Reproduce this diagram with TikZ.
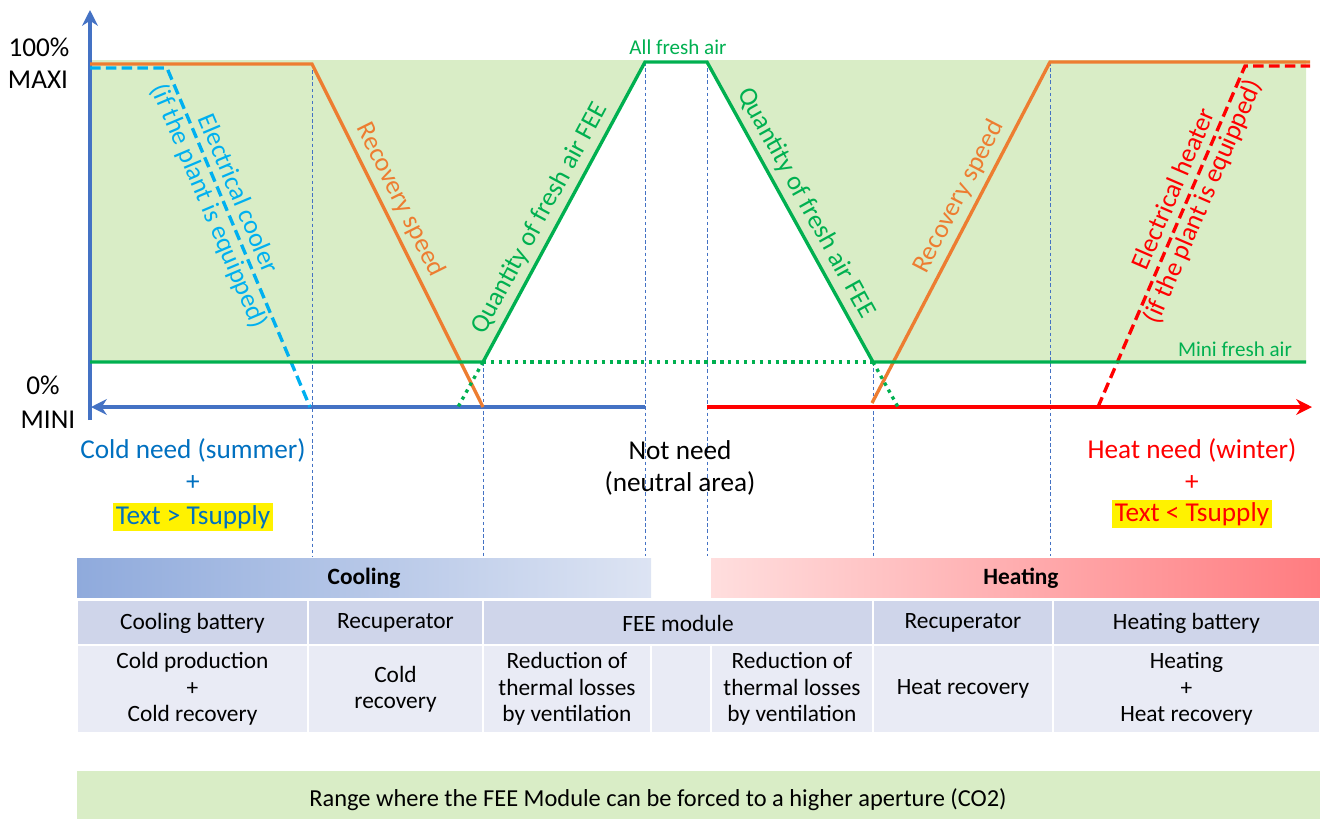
\documentclass[tikz,border=0pt]{standalone}
\usepackage{fontspec}
\setmainfont{Carlito}
\usetikzlibrary{arrows.meta}
\definecolor{axisblue}{HTML}{4472C4}
\definecolor{fegreen}{HTML}{00B050}
\definecolor{recorange}{HTML}{ED7D31}
\definecolor{coolerblue}{HTML}{00B0F0}
\definecolor{heatred}{HTML}{FF0000}
\definecolor{rangegreen}{HTML}{D9EDC6}
\definecolor{coldblue}{HTML}{0070C0}
\definecolor{headfill}{HTML}{CFD5EA}
\definecolor{bodyfill}{HTML}{E9EBF5}
\definecolor{coolL}{HTML}{8FAADC}
\definecolor{coolR}{HTML}{DDE4F3}
\definecolor{heatL}{HTML}{FFDEDE}
\definecolor{heatR}{HTML}{FF7C80}

\begin{document}
\begin{tikzpicture}[x=0.02cm,y=0.02cm,>={Stealth[length=9pt,width=9pt]},
	curve/.style={line width=1.9pt},
	axisline/.style={line width=2pt,draw=axisblue},
	guide/.style={draw=axisblue,line width=0.4pt,dash pattern=on 2pt off 1.5pt},
	dots/.style={fegreen,line width=1.9pt,dash pattern=on 1.9pt off 2.6pt},
	lbl/.style={font=\fontsize{15.5}{19}\selectfont,align=center},
	slopelbl/.style={font=\fontsize{15}{18}\selectfont,align=center,sloped,inner sep=3pt},
	small/.style={font=\fontsize{12}{14}\selectfont,text=fegreen},
	cell/.style={font=\fontsize{13.3}{15}\selectfont,align=center}]
	\useasboundingbox (0,0) rectangle (1320,-819);

	% key points of the curves
	\coordinate (recA) at (312,-64);
	\coordinate (recB) at (483,-407);
	\coordinate (recC) at (872,-403);
	\coordinate (recD) at (1050,-62);
	\coordinate (feeA) at (483,-362);
	\coordinate (feeB) at (645,-62);
	\coordinate (feeC) at (707,-62);
	\coordinate (feeD) at (873,-362);

	% range of the FEE module
	\fill[rangegreen] (90,-60) -- (feeB |- 0,-60) -- (feeA) -- (90,-362) -- cycle;
	\fill[rangegreen] (feeC |- 0,-60) -- (1306,-60) -- (1306,-362) -- (feeD) -- cycle;

	% guide lines
	\foreach \p in {recA,feeA,feeB,feeC,feeD,recD}
		\draw[guide] (\p) -- (\p |- 0,-556);

	% axes
	\draw[axisline,->] (90,-420) -- (90,-10);
	\draw[axisline,->] (feeB |- recB) -- (91,-407);
	\draw[axisline,draw=heatred,->] (feeC |- recB) -- (1312,-407);

	% curves
	\draw[curve,coolerblue,dash pattern=on 6pt off 3pt] (90,-68) -- (167,-68)
		-- node[slopelbl,pos=0.39] (cooler) {Electrical cooler\\(if the plant is equipped)} (310,-407);
	\draw[curve,heatred,dash pattern=on 6pt off 3pt] (1098,-407)
		-- node[slopelbl,pos=0.62] (heater) {Electrical heater\\(if the plant is equipped)} (1245,-66) -- (1310,-66);
	\draw[curve,recorange] (90,-64) -- (recA) -- node[slopelbl,above,pos=0.42] (recleft) {Recovery speed} (recB);
	\draw[curve,recorange] (recC) -- node[slopelbl,above,pos=0.58] (recright) {Recovery speed} (recD) -- (1310,-62);
	\draw[dots] (feeA) -- (feeD);
	\draw[dots] (feeA) -- (458,-407);
	\draw[dots] (feeD) -- (898,-407);
	\draw[curve,fegreen] (90,-362) -- (feeA)
		-- node[slopelbl,above,pos=0.45] (feeleft) {Quantity of fresh air FEE} (feeB) -- (feeC)
		-- node[slopelbl,above,pos=0.5] (feeright) {Quantity of fresh air FEE} (feeD) -- (1306,-362);

	% axis texts
	\node[lbl] (maxpct) at (39,-47) {100\%};
	\node[lbl] (maxi) at (38,-80) {MAXI};
	\node[lbl] (minpct) at (43,-385) {0\%};
	\node[lbl] (mini) at (48,-420) {MINI};
	\node[small] (allfresh) at (678,-47) {All fresh air};
	\node[small] (minifresh) at (1235,-349) {Mini fresh air};

	% needs
	\node[lbl,text=coldblue] (coldneed) at (193,-450) {Cold need (summer)};
	\node[lbl,text=coldblue] (coldplus) at (193,-483) {+};
	\node[lbl,text=coldblue,fill=yellow,inner sep=1.5pt] (coldcond) at (193,-517) {Text > Tsupply};
	\node[lbl] (noneed) at (680,-450) {Not need};
	\node[lbl] (neutral) at (680,-483) {(neutral area)};
	\node[lbl,text=heatred] (heatneed) at (1192,-450) {Heat need (winter)};
	\node[lbl,text=heatred] (heatplus) at (1192,-483) {+};
	\node[lbl,text=heatred,fill=yellow,inner sep=1.5pt] (heatcond) at (1192,-514) {Text < Tsupply};

	% cooling / heating bars
	\shade[left color=coolL,right color=coolR] (77,-558) rectangle (651,-597);
	\node[cell,font=\fontsize{13.3}{15}\selectfont\bfseries] (cooling) at (364,-578) {Cooling};
	\shade[left color=heatL,right color=heatR] (711,-558) rectangle (1320,-597);
	\node[cell,font=\fontsize{13.3}{15}\selectfont\bfseries] (heating) at (1021,-578) {Heating};

	% table
	\foreach \a/\b/\t in {77/308/Cooling battery,308/483/Recuperator,483/873/FEE module,
		873/1053/Recuperator,1053/1320/Heating battery} {
		\fill[headfill] (\a+1,-601) rectangle (\b-1,-644);
		\node[cell] (h\a) at ({(\a+\b)/2},-623) {\t};
	}
	\foreach \a/\b/\t in {77/308/{Cold production\\+\\Cold recovery},308/483/{Cold\\recovery},
		483/651/{Reduction of\\thermal losses\\by ventilation},651/711/{},
		711/873/{Reduction of\\thermal losses\\by ventilation},873/1053/{Heat recovery},
		1053/1320/{Heating\\+\\Heat recovery}} {
		\fill[bodyfill] (\a+1,-646) rectangle (\b-1,-732);
		\node[cell] (b\a) at ({(\a+\b)/2},-689) {\t};
	}

	% forced aperture range
	\fill[rangegreen] (77,-771) rectangle (1320,-819);
	\node[cell,font=\fontsize{13.9}{16}\selectfont] (forced) at (658,-800)
		{Range where the FEE Module can be forced to a higher aperture (CO2)};
\end{tikzpicture}
\end{document}
